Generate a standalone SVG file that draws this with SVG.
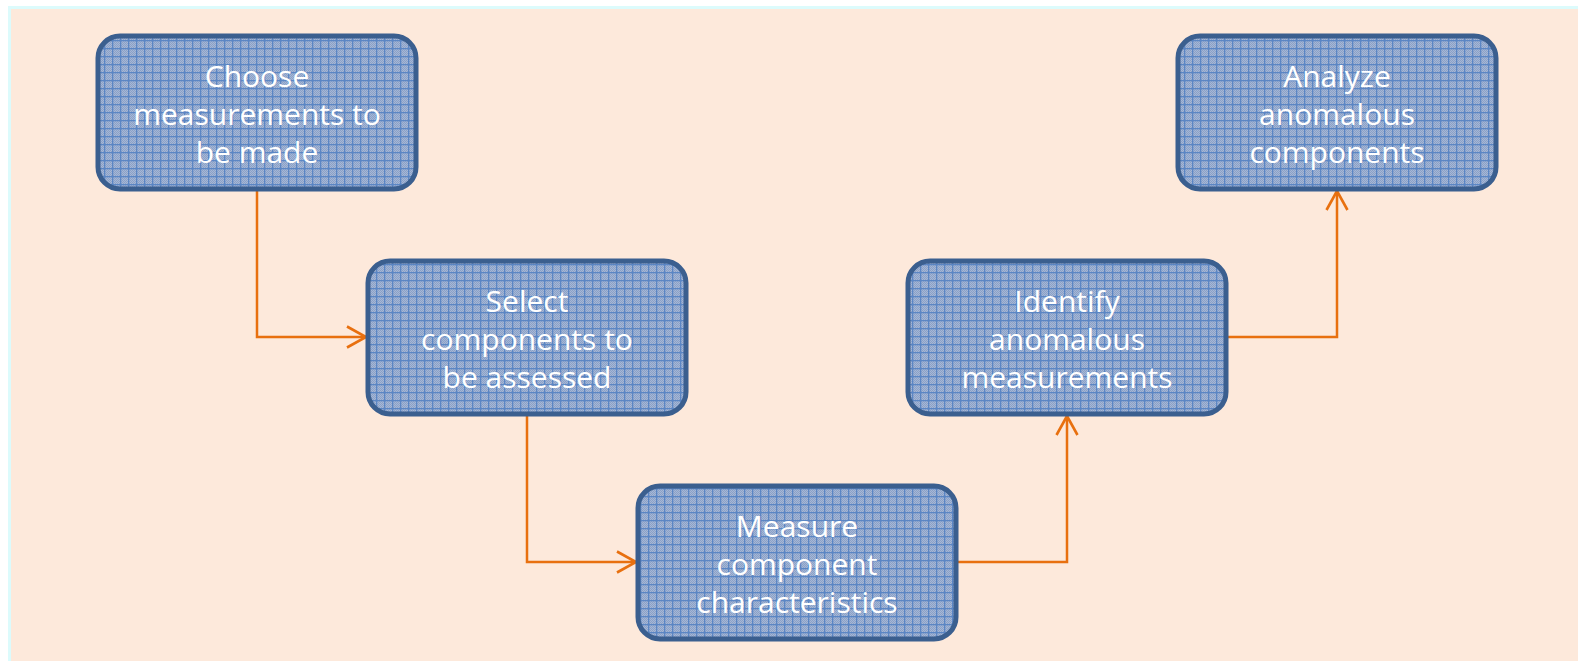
<svg xmlns="http://www.w3.org/2000/svg" width="1578" height="661" viewBox="0 0 1578 661">
  <style>
    .box { fill: url(#grid); stroke: #3b5f8f; stroke-width: 5; }
    .lbl { font-family: "Open Sans", "Noto Sans", "Liberation Sans", sans-serif; font-size: 30px; fill: #ffffff; text-anchor: middle; }
    .wire { fill: none; stroke: #e8700f; stroke-width: 2.5; }
  </style>
  <defs>
    <!-- fine dither for the box fill -->
    <pattern id="dither" width="2" height="2" patternUnits="userSpaceOnUse">
      <rect width="2" height="2" fill="#a6b7d5"/>
      <rect width="1" height="1" fill="#8aa1c8"/>
      <rect x="1" y="1" width="1" height="1" fill="#8aa1c8"/>
    </pattern>
    <!-- graph-paper grid over the dither -->
    <pattern id="grid" width="8" height="8" patternUnits="userSpaceOnUse">
      <rect width="8" height="8" fill="url(#dither)"/>
      <rect width="8" height="1.3" fill="#5b86c4"/>
      <rect width="1.3" height="8" fill="#5b86c4"/>
    </pattern>
    <marker id="arrow" markerWidth="26" markerHeight="26" refX="21" refY="13" orient="auto" markerUnits="userSpaceOnUse">
      <path d="M2,2.5 L21,13 L2,23.5" fill="none" stroke="#e8700f" stroke-width="2.6"/>
    </marker>
  </defs>

  <!-- page background -->
  <rect width="1578" height="661" fill="#ffffff"/>
  <rect x="8" y="6" width="1570" height="655" fill="#dcfbfc"/>
  <rect x="11" y="9" width="1567" height="652" fill="#fde9db"/>

  <g id="connectors">
    <path class="wire" d="M257,189 V337 H366" marker-end="url(#arrow)"/>
    <path class="wire" d="M527,414 V562 H636" marker-end="url(#arrow)"/>
    <path class="wire" d="M956,562 H1067 V416" marker-end="url(#arrow)"/>
    <path class="wire" d="M1226,337 H1337 V191" marker-end="url(#arrow)"/>
  </g>

  <g id="choose">
    <rect class="box" x="98" y="36" width="318" height="153" rx="22"/>
    <text class="lbl" x="257" y="87">Choose</text>
    <text class="lbl" x="257" y="125">measurements to</text>
    <text class="lbl" x="257" y="163">be made</text>
  </g>

  <g id="select">
    <rect class="box" x="368" y="261" width="318" height="153" rx="22"/>
    <text class="lbl" x="527" y="312">Select</text>
    <text class="lbl" x="527" y="350">components to</text>
    <text class="lbl" x="527" y="388">be assessed</text>
  </g>

  <g id="measure">
    <rect class="box" x="638" y="486" width="318" height="153" rx="22"/>
    <text class="lbl" x="797" y="537">Measure</text>
    <text class="lbl" x="797" y="575">component</text>
    <text class="lbl" x="797" y="613">characteristics</text>
  </g>

  <g id="identify">
    <rect class="box" x="908" y="261" width="318" height="153" rx="22"/>
    <text class="lbl" x="1067" y="312">Identify</text>
    <text class="lbl" x="1067" y="350">anomalous</text>
    <text class="lbl" x="1067" y="388">measurements</text>
  </g>

  <g id="analyze">
    <rect class="box" x="1178" y="36" width="318" height="153" rx="22"/>
    <text class="lbl" x="1337" y="87">Analyze</text>
    <text class="lbl" x="1337" y="125">anomalous</text>
    <text class="lbl" x="1337" y="163">components</text>
  </g>
</svg>
